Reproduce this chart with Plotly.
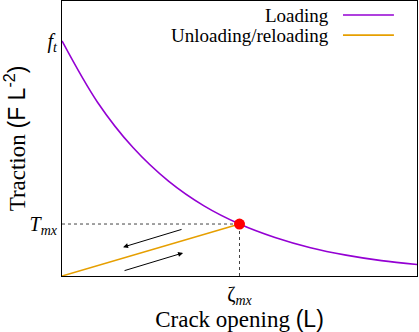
import plotly.graph_objects as go

# data (normalised units)
crack_opening = [0.0, 0.1, 0.2, 0.3, 0.4, 0.5, 0.6, 0.7, 0.8, 0.9, 1.0]
traction = [0.855, 0.632, 0.467, 0.345, 0.255, 0.189, 0.140, 0.103, 0.076, 0.056, 0.042]

unload_x = [0.0, 0.5]
unload_y = [0.0, 0.189]

zeta_mx = 0.5
T_mx = 0.189
f_t = 0.855

# arrows (tail -> head)
arrows = [
    ((0.341, 0.171), (0.172, 0.105)),
    ((0.172, 0.018), (0.341, 0.084)),
]

purple = '#9400D3'
orange = '#E69F00'
serif = 'Liberation Serif'

fig = go.Figure()

# dotted guides
fig.add_trace(go.Scatter(x=[0, zeta_mx], y=[T_mx, T_mx], mode='lines',
                         line=dict(color='#444444', width=1, dash='dot'), showlegend=False))
fig.add_trace(go.Scatter(x=[zeta_mx, zeta_mx], y=[0, T_mx], mode='lines',
                         line=dict(color='#444444', width=1, dash='dot'), showlegend=False))

fig.add_trace(go.Scatter(x=crack_opening, y=traction, mode='lines', name='Loading',
                         line=dict(color=purple, width=1.6, shape='spline'), showlegend=False))
fig.add_trace(go.Scatter(x=unload_x, y=unload_y, mode='lines', name='Unloading/reloading',
                         line=dict(color=orange, width=1.6), showlegend=False))
fig.add_trace(go.Scatter(x=[zeta_mx], y=[T_mx], mode='markers',
                         marker=dict(color='#FF0000', size=11), showlegend=False))

for (tx, ty), (hx, hy) in arrows:
    fig.add_annotation(x=hx, y=hy, ax=tx, ay=ty, xref='x', yref='y', axref='x', ayref='y',
                       showarrow=True, arrowhead=2, arrowsize=1, arrowwidth=1,
                       arrowcolor='black', text='')

# legend drawn by hand (text left of sample, like the original)
legend_items = [('Loading', purple, 0.949), ('Unloading/reloading', orange, 0.876)]
for label, col, yy in legend_items:
    fig.add_annotation(x=0.758, y=yy, xref='paper', yref='paper', text=label,
                       showarrow=False, xanchor='right', yanchor='middle',
                       font=dict(family=serif, size=19, color='black'))
    fig.add_shape(type='line', xref='paper', yref='paper', x0=0.7915, x1=0.935,
                  y0=yy, y1=yy, line=dict(color=col, width=1.6))

fig.update_layout(
    width=419, height=332,
    margin=dict(l=62, r=2, t=1, b=56),
    plot_bgcolor='white', paper_bgcolor='white',
    font=dict(family=serif, size=19, color='black'),
    xaxis=dict(range=[0, 1], showgrid=False, zeroline=False, showline=True, mirror=True,
               linecolor='black', linewidth=1, ticks='', tickfont=dict(size=20),
               tickvals=[zeta_mx], ticktext=['ζ<sub><i>mx</i></sub>'],
               title=dict(text='Crack opening <span style="font-family:Liberation Sans">(L)</span>',
                          standoff=0)),
    yaxis=dict(range=[0, 1], showgrid=False, zeroline=False, showline=True, mirror=True,
               linecolor='black', linewidth=1, ticks='', tickfont=dict(size=20),
               tickvals=[f_t, T_mx], ticktext=['<i>f<sub>t</sub></i>', '<i>T<sub>mx</sub></i>'],
               title=dict(text='Traction <span style="font-family:Liberation Sans">(F L<sup>-2</sup>)</span>',
                          standoff=6)),
)

fig.write_html('out.html', config={'displayModeBar': False},
               post_script="document.body.style.margin='0';")
